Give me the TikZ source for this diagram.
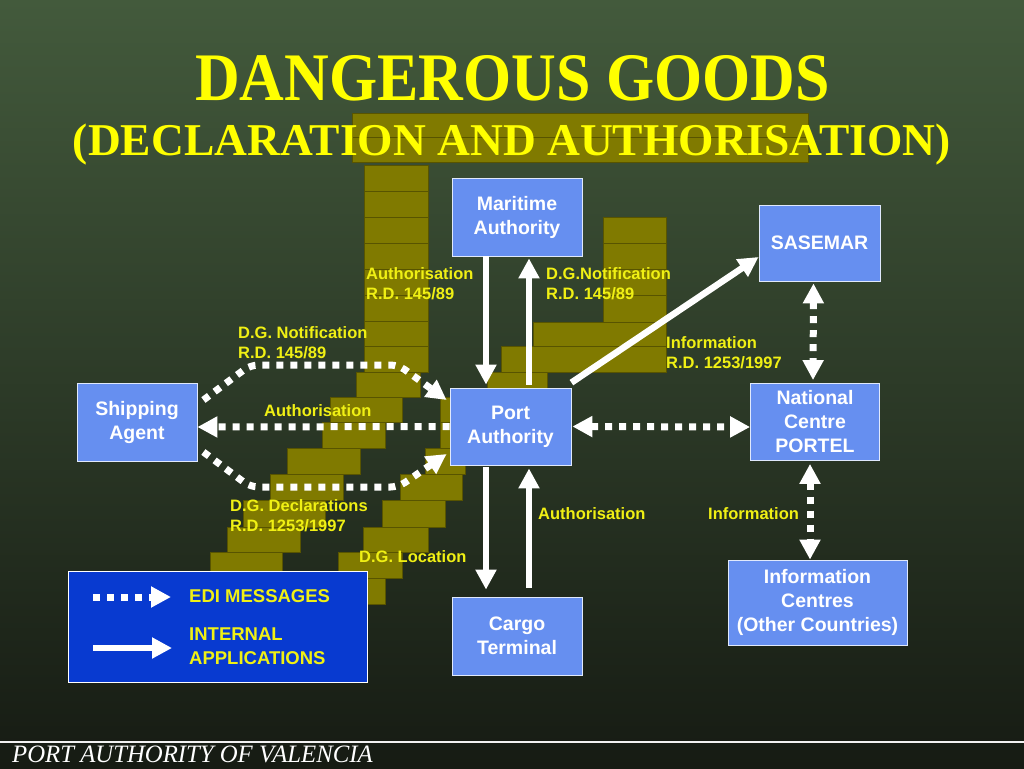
\documentclass[tikz,border=0pt]{standalone}
\usepackage{fontspec}
\setmainfont{Liberation Serif}
\setsansfont{Liberation Sans}
\usetikzlibrary{arrows.meta,positioning,calc}

\definecolor{bgtop}{RGB}{67,90,60}
\definecolor{bgmid}{RGB}{42,57,38}
\definecolor{bgbot}{RGB}{22,27,19}
\definecolor{stackol}{RGB}{128,122,0}
\definecolor{stackline}{RGB}{88,84,0}
\definecolor{boxblue}{RGB}{102,143,240}
\definecolor{legblue}{RGB}{8,58,208}
\definecolor{labyel}{RGB}{240,240,20}
\definecolor{titleyel}{RGB}{255,255,0}

\begin{document}
\begin{tikzpicture}[
    x=1pt, y=-1pt,
    >={Triangle[length=20pt,width=20pt]},
    box/.style={
        draw=white!80!boxblue,
        line width=0.8pt,
        fill=boxblue,
        text=white,
        align=center,
        inner sep=1pt,
        font=\sffamily\bfseries\fontsize{19.5}{24}\selectfont
    },
    lbl/.style={
        anchor=west,
        align=left,
        inner sep=0pt,
        text=labyel,
        font=\sffamily\bfseries\fontsize{16.5}{20}\selectfont
    },
    leglbl/.style={
        lbl,
        font=\sffamily\bfseries\fontsize{18.5}{24}\selectfont
    },
    arr/.style={->, white, line width=6.5pt},
    edi/.style={white, line width=7pt, dash pattern=on 7pt off 7pt},
    piece/.style={fill=stackol, draw=stackline, line width=0.8pt}
]
\useasboundingbox (0,0) rectangle (1024,768);
\shade[top color=bgtop, middle color=bgmid, bottom color=bgbot] (0,0) rectangle (1024,768);

% background stacks
\foreach \xa/\ya/\xb/\yb in {
    352/113/808/137, 352/137/808/162,
    364/165/428/191, 364/191/428/217, 364/217/428/243, 364/243/428/269,
    364/269/428/295, 364/295/428/321, 364/321/428/346, 364/346/428/372,
    356/372/420/397, 330/397/402/422, 322/422/385/448, 287/448/360/474,
    270/474/343/500, 243/500/325/527, 227/527/300/552, 210/552/282/578,
    210/578/282/604,
    440/397/470/422, 440/422/470/448, 425/448/465/474, 400/474/462/500,
    382/500/445/527, 363/527/428/552, 338/552/402/578, 348/578/385/604,
    603/217/666/243, 603/243/666/269, 603/269/666/295, 603/295/666/322,
    533/322/666/346, 501/346/666/372, 487/372/547/397}
    \draw[piece] (\xa,\ya) rectangle (\xb,\yb);

% title
\node[inner sep=0pt, text=titleyel, font=\rmfamily\bfseries\fontsize{68}{70}\selectfont] (title) at (512.5,78)
    {\scalebox{0.91}[1]{DANGEROUS GOODS}};
\node[inner sep=0pt, text=titleyel, font=\rmfamily\bfseries\fontsize{45.5}{47}\selectfont] (subtitle) at (512,145)
    {(DECLARATION AND AUTHORISATION)};

% boxes
\node[box, minimum width=130pt, minimum height=78pt] (maritime) at (517,217) {Maritime\\Authority};
\node[box, minimum width=121pt, minimum height=76pt] (sasemar) at (819.5,243) {SASEMAR};
\node[box, minimum width=120pt, minimum height=78pt] (shipping) at (137,422) {Shipping\\ Agent};
\node[box, minimum width=121pt, minimum height=77pt] (port) at (510.5,426.5) {Port\\Authority};
\node[box, minimum width=129pt, minimum height=77pt] (portel) at (815,422) {National\\Centre\\PORTEL};
\node[box, minimum width=130pt, minimum height=78pt] (cargo) at (517,636) {Cargo\\Terminal};
\node[box, minimum width=179pt, minimum height=85pt] (infoc) at (817.5,602.5) {Information\\Centres\\(Other Countries)};

% internal applications
\draw[arr] ([xshift=-31pt]maritime.south) -- ([xshift=-24.5pt,yshift=3pt]port.north);
\draw[arr] ([xshift=18.5pt,yshift=3pt]port.north) -- ([xshift=12pt,yshift=-2pt]maritime.south);
\draw[arr] ([yshift=5pt]port.north east) -- ([yshift=-14pt]sasemar.west);
\draw[arr] ([xshift=-24.5pt,yshift=-2pt]port.south) -- ([xshift=-31pt,yshift=7pt]cargo.north);
\draw[arr] ([xshift=12pt,yshift=9pt]cargo.north) -- ([xshift=18.5pt,yshift=-3pt]port.south);

% edi messages
\draw[edi,<->] ([xshift=-6pt,yshift=-2pt]sasemar.south) -- ([xshift=-2pt,yshift=3pt]portel.north);
\draw[edi,<->] ([xshift=-5pt,yshift=-3pt]portel.south) -- ([xshift=-7.5pt]infoc.north);
\draw[edi,<->] ([xshift=1pt]port.east) -- ([yshift=-5pt]portel.west);
\draw[edi,->] (port.west) -- ([yshift=-5pt]shipping.east);
\draw[edi,->, rounded corners=8pt] ([xshift=6pt,yshift=22pt]shipping.east) -- ++(47,-35) -- ++(148,0)
    -- ([xshift=-3pt,yshift=26.5pt]port.west);
\draw[edi,->, rounded corners=8pt] ([xshift=6pt,yshift=-30pt]shipping.east) -- ++(47,35) -- ++(148,0)
    -- ([xshift=-3pt,yshift=-27.5pt]port.west);

% labels
\node[lbl] (lauth1) at (366,284) {Authorisation\\R.D. 145/89};
\node[lbl] (lnotif1) at (546,284) {D.G.Notification\\R.D. 145/89};
\node[lbl] (lnotif2) at (238,343) {D.G. Notification\\R.D. 145/89};
\node[lbl] (lauth2) at (264,411) {Authorisation};
\node[lbl] (ldecl) at (230,516) {D.G. Declarations\\R.D. 1253/1997};
\node[lbl] (lloc) at (359,557) {D.G. Location};
\node[lbl] (lauth3) at (538,514) {Authorisation};
\node[lbl] (linfo1) at (666,353) {Information\\R.D. 1253/1997};
\node[lbl] (linfo2) at (708,514) {Information};

% legend
\node[draw=white, line width=1pt, fill=legblue, minimum width=299pt, minimum height=111pt, inner sep=0pt] (legend) at (217.5,626.5) {};
\coordinate (edia) at (93,597);
\coordinate (edib) at (171,597);
\coordinate (inta) at (93,648);
\coordinate (intb) at (172,648);
\draw[edi,->] (edia) -- (edib);
\draw[arr] (inta) -- (intb);
\node[leglbl] (ledi) at (189,596) {EDI MESSAGES};
\node[leglbl] (lint) at (189,646) {INTERNAL\\APPLICATIONS};

% footer
\coordinate (rulea) at (0,742);
\coordinate (ruleb) at (1024,742);
\draw[white!90!gray, line width=2pt] (rulea) -- (ruleb);
\node[anchor=base west, inner sep=0pt, text=white, font=\rmfamily\itshape\fontsize{25}{27}\selectfont] (footer) at (12,762.5)
    {\scalebox{0.99}[1]{PORT AUTHORITY OF VALENCIA}};
\end{tikzpicture}
\end{document}
